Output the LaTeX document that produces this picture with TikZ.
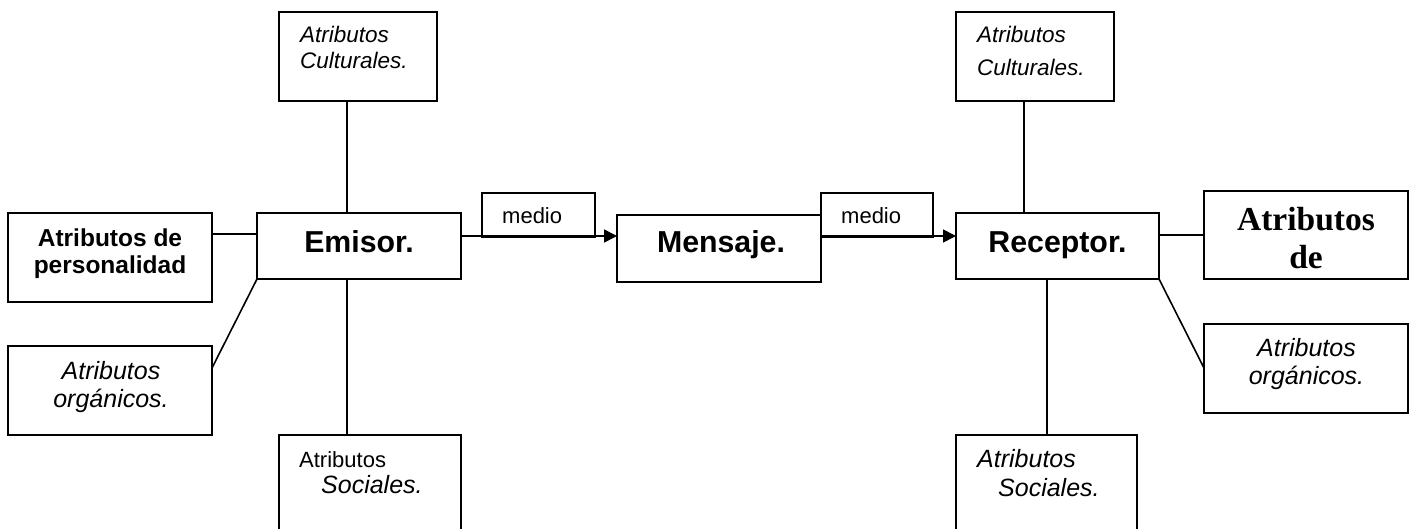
\documentclass[tikz,border=0pt]{standalone}
\usepackage{fontspec}
\setmainfont{Liberation Sans}
\newfontfamily\tnr{Liberation Serif}
\usetikzlibrary{arrows.meta}
\begin{document}
\begin{tikzpicture}[x=1pt,y=-1pt,
  box/.style={draw, line width=1.6pt, inner sep=0pt, outer sep=0pt},
  conn/.style={line width=1.6pt},
  arr/.style={line width=1.6pt, -{Triangle[length=13pt,width=13pt]}},
  txt/.style={inner sep=0pt, anchor=base, font=\fontsize{22}{26}\selectfont},
  txtw/.style={txt, anchor=base west},
  it/.style={txt, font=\fontsize{22.5}{26}\selectfont\itshape},
  itw/.style={it, anchor=base west},
  itb/.style={txt, font=\fontsize{25}{28}\selectfont\itshape},
  itbw/.style={itb, anchor=base west},
  bd/.style={txt, font=\fontsize{24.5}{28}\selectfont\bfseries},
  main/.style={txt, font=\fontsize{30.3}{34}\selectfont\bfseries},
  serifbd/.style={txt, font=\fontsize{33.5}{38}\selectfont\tnr\bfseries}]
\useasboundingbox (0,0) rectangle (1414,528);
\clip (0,0) rectangle (1414,528);
% boxes
\node[box, minimum width=158, minimum height=89] (cultL) at (358,56.5) {};
\node[box, minimum width=204, minimum height=89] (persL) at (110,257.5) {};
\node[box, minimum width=204, minimum height=66] (emisor) at (359,246) {};
\node[box, minimum width=204, minimum height=89] (orgL) at (110,390.5) {};
\node[box, minimum width=182, minimum height=110] (socL) at (370,490) {};
\node[box, minimum width=113, minimum height=44] (medio1) at (538.5,215) {};
\node[box, minimum width=204, minimum height=67] (mensaje) at (719,248.5) {};
\node[box, minimum width=112, minimum height=44] (medio2) at (877,215) {};
\node[box, minimum width=158, minimum height=89] (cultR) at (1035,56.5) {};
\node[box, minimum width=203, minimum height=66] (receptor) at (1057.5,246) {};
\node[box, minimum width=204, minimum height=88] (persR) at (1306,235) {};
\node[box, minimum width=204, minimum height=89] (orgR) at (1306,368.5) {};
\node[box, minimum width=181, minimum height=110] (socR) at (1046.5,490) {};
% texts
\node[itw] (t1) at (300,42) {Atributos};
\node[itw] (t2) at (300,68) {Culturales.};
\node[bd] (t3) at (110,246) {Atributos de};
\node[bd] (t4) at (110,273) {personalidad};
\node[main] (t5) at (359,252) {Emisor.};
\node[itb] (t6) at (111,379) {Atributos};
\node[itb] (t7) at (111,407) {orgánicos.};
\node[txtw] (t8) at (299,467) {Atributos};
\node[itbw] (t9) at (321,493) {Sociales.};
\node[txtw] (t10) at (502,223) {medio};
\node[main] (t11) at (721,252) {Mensaje.};
\node[txtw] (t12) at (841,223) {medio};
\node[itw] (t13) at (977,42) {Atributos};
\node[itw] (t14) at (977,75) {Culturales.};
\node[main] (t15) at (1057.5,252) {Receptor.};
\node[serifbd] (t16) at (1306,230) {Atributos};
\node[serifbd] (t17) at (1306,268) {de};
\node[itb] (t18) at (1306.5,356) {Atributos};
\node[itb] (t19) at (1306.5,384) {orgánicos.};
\node[itbw] (t20) at (977,467) {Atributos};
\node[itbw] (t21) at (998,496) {Sociales.};
% helper coordinates
\coordinate (xl) at (347,0);
\coordinate (xr1) at (1024,0);
\coordinate (xr2) at (1047,0);
\coordinate (yp) at (0,234);
\coordinate (ya) at (0,236);
\coordinate (yo) at (0,368);
\coordinate (yr) at (0,235);
% connectors
\draw[conn] (cultL.south -| xl) -- (emisor.north -| xl);
\draw[conn] (persL.east |- yp) -- (emisor.west |- yp);
\draw[conn] (emisor.south west) -- (orgL.east |- yo);
\draw[conn] (emisor.south -| xl) -- (socL.north -| xl);
\draw[arr] (emisor.east |- ya) -- (mensaje.west |- ya);
\draw[arr] (mensaje.east |- ya) -- (receptor.west |- ya);
\draw[conn] (cultR.south -| xr1) -- (receptor.north -| xr1);
\draw[conn] (receptor.east |- yr) -- (persR.west |- yr);
\draw[conn] (receptor.south east) -- (orgR.west |- yo);
\draw[conn] (receptor.south -| xr2) -- (socR.north -| xr2);
\end{tikzpicture}
\end{document}
